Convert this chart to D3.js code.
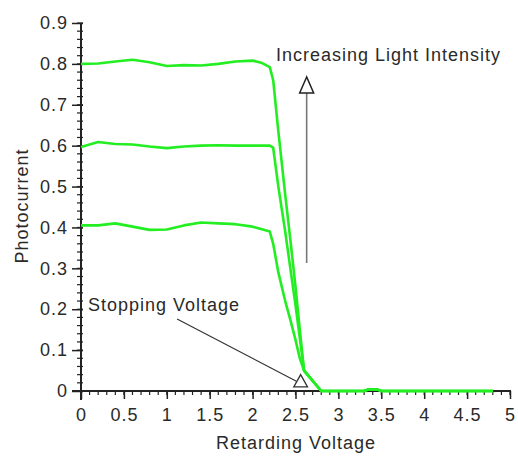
<!DOCTYPE html>
<html>
<head>
<meta charset="utf-8">
<script src="https://cdn.jsdelivr.net/npm/d3@7"></script>
<style>
  html, body { margin: 0; padding: 0; background: #ffffff; }
  svg text { font-family: "Liberation Sans", Arial, sans-serif; font-size: 18px; fill: #2a2a2a; letter-spacing: 1px; }
</style>
</head>
<body>
<svg id="chart" width="518" height="462"></svg>
<script>
// ---- data ----
const voltage = [0, 0.2, 0.4, 0.6, 0.8, 1.0, 1.2, 1.4, 1.6, 1.8, 2.0, 2.1, 2.2, 2.24, 2.3, 2.38, 2.44, 2.5, 2.55, 2.6, 2.8, 3.3, 3.35, 3.45, 3.5, 4.8];
const highIntensity = [0.800, 0.801, 0.806, 0.810, 0.804, 0.795, 0.797, 0.796, 0.800, 0.806, 0.808, 0.803, 0.792, 0.760, 0.635, 0.480, 0.370, 0.255, 0.150, 0.050, 0, 0, 0.004, 0.004, 0, 0];
const midIntensity  = [0.597, 0.609, 0.604, 0.603, 0.598, 0.594, 0.598, 0.600, 0.601, 0.600, 0.600, 0.600, 0.600, 0.595, 0.500, 0.390, 0.300, 0.210, 0.130, 0.050, 0, 0, 0.004, 0.004, 0, 0];
const lowIntensity  = [0.405, 0.405, 0.410, 0.402, 0.394, 0.395, 0.405, 0.412, 0.410, 0.408, 0.402, 0.396, 0.390, 0.360, 0.290, 0.220, 0.174, 0.125, 0.080, 0.050, 0, 0, 0.004, 0.004, 0, 0];
const xTicks = [0, 0.5, 1, 1.5, 2, 2.5, 3, 3.5, 4, 4.5, 5];
const yTicks = [0, 0.1, 0.2, 0.3, 0.4, 0.5, 0.6, 0.7, 0.8, 0.9];
const xLabel = "Retarding Voltage";
const yLabel = "Photocurrent";
const annotIntensity = "Increasing Light Intensity";
const annotStopping = "Stopping Voltage";

// ---- layout ----
const svg = d3.select("#chart");
const x = d3.scaleLinear().domain([0, 5]).range([81, 510]);
const y = d3.scaleLinear().domain([0, 0.9]).range([391, 23]);

svg.append("rect").attr("width", 518).attr("height", 462).attr("fill", "#ffffff");

// ---- axes ----
const axisColor = "#222";
const yMinor = d3.range(0, 0.9001, 0.02);
const xMinor = d3.range(0, 5.0001, 0.1);

const gx = svg.append("g").attr("transform", `translate(0,${y(0)})`);
gx.call(d3.axisBottom(x).tickValues(xTicks).tickSize(8).tickPadding(5).tickFormat(d3.format("~g")));
gx.select(".domain").remove();
gx.selectAll(".tick line").attr("stroke", axisColor).attr("stroke-width", 1.5);
gx.selectAll(".tick text").attr("fill", null).style("font-size", "18px").attr("dy", "0.95em");
gx.selectAll(".minor").data(xMinor).enter().append("line")
  .attr("x1", d => x(d)).attr("x2", d => x(d)).attr("y1", -1).attr("y2", 4)
  .attr("stroke", axisColor).attr("stroke-width", 1.2);
gx.append("line").attr("x1", x(0) - 9).attr("x2", x(5) + 1).attr("y1", 0).attr("y2", 0)
  .attr("stroke", axisColor).attr("stroke-width", 2);

const gy = svg.append("g").attr("transform", `translate(${x(0)},0)`);
gy.call(d3.axisLeft(y).tickValues(yTicks).tickSize(9).tickPadding(4).tickFormat(d3.format("~g")));
gy.select(".domain").remove();
gy.selectAll(".tick line").attr("stroke", axisColor).attr("stroke-width", 1.5).attr("x2", -9).attr("x1", 2);
gy.selectAll(".tick text").attr("fill", null).style("font-size", "18px");
gy.selectAll(".minor").data(yMinor).enter().append("line")
  .attr("x1", -4).attr("x2", 2).attr("y1", d => y(d)).attr("y2", d => y(d))
  .attr("stroke", axisColor).attr("stroke-width", 1.2);
gy.append("line").attr("x1", 0).attr("x2", 0).attr("y1", y(0.9)).attr("y2", y(0) + 9)
  .attr("stroke", axisColor).attr("stroke-width", 2);

// ---- curves ----
const line = d3.line().x((d, i) => x(voltage[i])).y(d => y(d));
[lowIntensity, midIntensity, highIntensity].forEach(series => {
  svg.append("path").datum(series).attr("d", line)
    .attr("fill", "none").attr("stroke", "#22ee22").attr("stroke-width", 2.6)
    .attr("stroke-linejoin", "round");
});

// ---- annotations ----
// vertical arrow for increasing intensity
const arrX = 2.63;
svg.append("line").attr("x1", x(arrX)).attr("x2", x(arrX)).attr("y1", y(0.313)).attr("y2", y(0.73))
  .attr("stroke", "#777").attr("stroke-width", 1.6);
svg.append("path")
  .attr("d", `M${x(arrX)},${y(0.768)} L${x(arrX) - 7},${y(0.729)} L${x(arrX) + 7},${y(0.729)} Z`)
  .attr("fill", "#fff").attr("stroke", "#222").attr("stroke-width", 1.5);
svg.append("text").attr("x", 276).attr("y", 61).text(annotIntensity);

// stopping voltage arrow
svg.append("line").attr("x1", x(1.12)).attr("y1", y(0.176)).attr("x2", x(2.51)).attr("y2", y(0.024))
  .attr("stroke", "#333").attr("stroke-width", 1.2);
svg.append("path")
  .attr("d", `M${x(2.56)},${y(0.04)} L${x(2.48)},${y(0.01)} L${x(2.64)},${y(0.01)} Z`)
  .attr("fill", "#fff").attr("stroke", "#333").attr("stroke-width", 1.3);
svg.append("text").attr("x", 88).attr("y", 311).text(annotStopping);

// ---- axis titles ----
svg.append("text").attr("x", 296).attr("y", 449).attr("text-anchor", "middle").text(xLabel);
svg.append("text").attr("transform", "translate(28,206) rotate(-90)").attr("text-anchor", "middle").text(yLabel);
</script>
</body>
</html>
